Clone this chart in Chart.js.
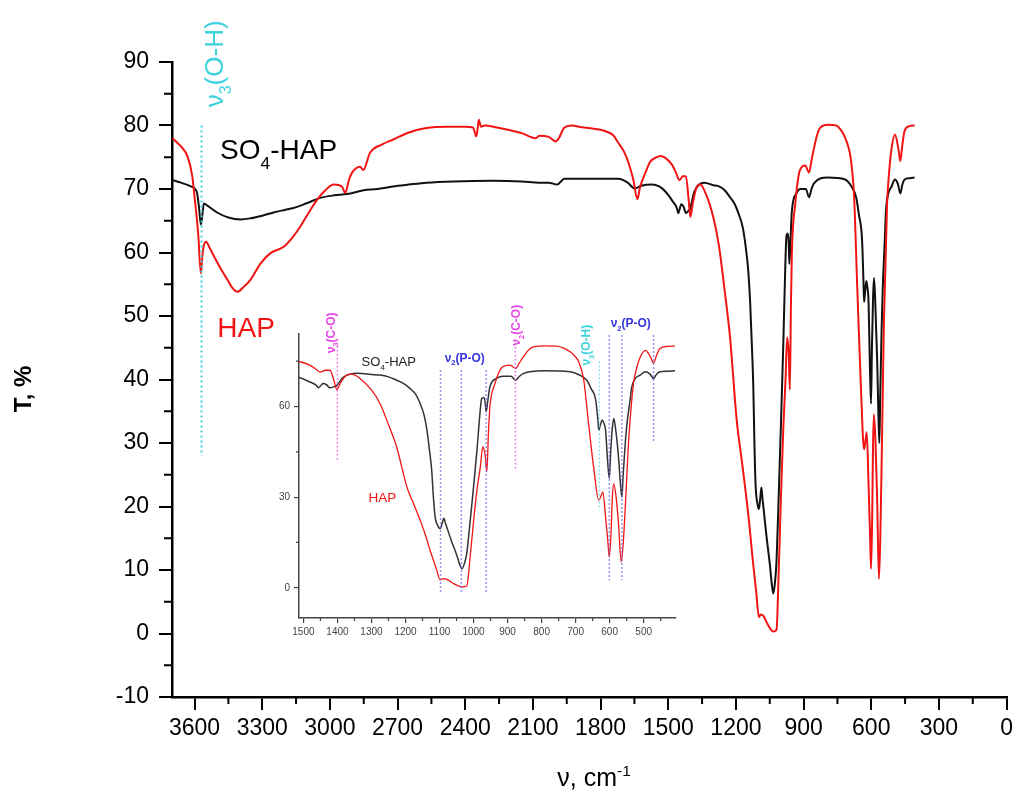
<!DOCTYPE html>
<html>
<head>
<meta charset="utf-8">
<script src="https://cdn.jsdelivr.net/npm/chart.js@4.4.0/dist/chart.umd.min.js"></script>
<style>
  body { margin: 0; background: #fff; }
  #wrap { position: relative; width: 1018px; height: 795px; }
  #mainChart { position: absolute; left: 0; top: 0; }
  #insetChart { position: absolute; left: 250px; top: 290px; }
</style>
</head>
<body>
<div id="wrap">
  <canvas id="mainChart" width="1018" height="795"></canvas>
  <canvas id="insetChart" width="440" height="360"></canvas>
</div>
<script>
'use strict'

// wavenumber (cm-1) and transmittance (%)
var hapNu = [3697, 3680, 3660, 3631, 3610, 3602, 3584, 3572, 3565, 3560,
  3550, 3530, 3514, 3480, 3454, 3430, 3410, 3385, 3352, 3307,
  3263, 3205, 3170, 3131, 3090, 3057, 3020, 2984, 2947, 2932,
  2915, 2903, 2866, 2852, 2822, 2770, 2719, 2650, 2572, 2480,
  2400, 2366, 2355, 2351, 2345, 2340, 2330, 2314, 2260, 2205,
  2150, 2087, 2072, 2030, 1999, 1985, 1962, 1925, 1896, 1830,
  1778, 1745, 1720, 1695, 1676, 1655, 1637, 1625, 1602, 1580,
  1557, 1535, 1513, 1481, 1465, 1451, 1435, 1422, 1410, 1402,
  1390, 1373, 1358, 1334, 1300, 1275, 1250, 1226, 1196, 1175,
  1157, 1140, 1128, 1110, 1098, 1090, 1079, 1060, 1045, 1034,
  1020, 1010, 1000, 990, 980, 973, 966, 961, 956, 952,
  937, 917, 893, 876, 865, 854, 840, 825, 790, 755,
  735, 716, 703, 691, 676, 662, 646, 632, 625, 620,
  612, 605, 601, 596, 592, 588, 581, 574, 566, 560,
  554, 544, 530, 520, 510, 495, 480, 471, 462, 452,
  430, 408];
var hapT = [78.0, 77.4, 76.7, 75.1, 72.0, 69.4, 63.0, 56.7, 59.5, 60.9,
  61.7, 60.5, 59.4, 57.2, 55.7, 54.3, 53.8, 54.5, 55.7, 58.3,
  59.9, 60.9, 62.2, 64.1, 66.5, 68.3, 69.8, 70.7, 70.4, 69.4,
  71.5, 72.5, 73.5, 73.0, 75.7, 77.0, 77.8, 78.9, 79.6, 79.8,
  79.8, 79.7, 78.6, 78.3, 79.5, 80.9, 79.8, 80.0, 79.7, 79.3,
  78.8, 78.0, 78.4, 78.2, 77.5, 78.0, 79.6, 80.0, 79.8, 79.5,
  79.1, 78.5, 77.2, 75.8, 74.1, 71.5, 68.4, 70.3, 72.5, 74.3,
  74.9, 75.2, 74.9, 73.7, 72.5, 71.4, 72.0, 72.0, 68.5, 65.6,
  68.0, 70.4, 70.7, 69.3, 65.5, 61.0, 54.0, 46.6, 33.4, 27.5,
  22.4, 17.0, 12.5, 6.5, 2.6, 3.0, 2.8, 1.5, 0.6, 0.3,
  0.6, 10.2, 22.0, 32.3, 40.0, 46.6, 44.0, 38.4, 52.0, 59.9,
  67.6, 72.9, 73.7, 72.6, 74.5, 76.4, 78.5, 79.7, 80.1, 80.0,
  79.3, 78.1, 76.8, 74.8, 68.7, 54.4, 38.9, 29.0, 30.5, 31.7,
  23.5, 15.0, 10.2, 18.0, 30.0, 34.5, 30.0, 21.3, 8.6, 15.0,
  26.8, 48.9, 67.6, 73.0, 76.4, 78.6, 76.4, 74.4, 77.0, 79.2,
  79.9, 80.0];

var so4Nu = [3697, 3660, 3616, 3590, 3580, 3572, 3565, 3559, 3540, 3500,
  3450, 3396, 3350, 3300, 3250, 3200, 3161, 3100, 3043, 2980,
  2924, 2850, 2790, 2721, 2650, 2571, 2450, 2280, 2150, 2072,
  2030, 1992, 1975, 1962, 1850, 1720, 1680, 1650, 1620, 1573,
  1540, 1513, 1481, 1462, 1456, 1442, 1432, 1422, 1412, 1402,
  1385, 1363, 1340, 1300, 1275, 1250, 1226, 1205, 1187, 1170,
  1157, 1145, 1137, 1130, 1123, 1118, 1113, 1105, 1098, 1093,
  1087, 1083, 1079, 1065, 1050, 1040, 1034, 1027, 1020, 1010,
  1000, 990, 981, 976, 970, 966, 963, 958, 952, 932,
  913, 890, 876, 865, 854, 794, 716, 690, 667, 655,
  641, 635, 632, 627, 622, 617, 612, 606, 601, 597,
  592, 588, 583, 574, 568, 564, 560, 554, 549, 540,
  535, 525, 510, 495, 482, 471, 462, 452, 430, 408];
var so4T = [71.4, 71.0, 70.4, 69.5, 67.0, 64.4, 66.0, 67.7, 67.3, 66.3,
  65.5, 65.2, 65.4, 65.8, 66.3, 66.7, 67.0, 67.8, 68.6, 69.0,
  69.2, 69.8, 70.0, 70.4, 70.7, 71.0, 71.2, 71.3, 71.2, 71.0,
  71.0, 70.7, 71.2, 71.6, 71.6, 71.6, 71.0, 70.1, 70.5, 70.7,
  70.4, 69.6, 68.1, 67.0, 66.2, 67.6, 67.2, 66.2, 66.5, 67.0,
  69.5, 70.7, 71.0, 70.6, 70.4, 69.8, 68.7, 67.6, 66.0, 64.0,
  61.0, 57.0, 52.2, 46.0, 38.9, 30.0, 23.5, 20.5, 19.6, 21.0,
  23.0, 21.5, 20.2, 15.5, 11.0, 7.5, 6.3, 8.0, 11.4, 22.0,
  33.4, 45.5, 58.0, 62.6, 63.0, 61.5, 58.2, 62.0, 66.5, 69.3,
  70.0, 70.0, 68.7, 70.0, 70.9, 71.8, 71.5, 70.5, 68.7, 66.0,
  62.1, 56.0, 52.2, 54.0, 55.5, 54.5, 52.2, 42.0, 36.2, 45.0,
  53.0, 56.0, 53.0, 43.3, 34.0, 30.0, 38.0, 48.0, 54.4, 62.0,
  66.5, 69.2, 70.4, 71.5, 70.8, 69.3, 70.7, 71.5, 71.7, 71.8];

// tick labels
var xTicks = [3600, 3300, 3000, 2700, 2400, 2100, 1800, 1500, 1200, 900, 600, 300, 0];
var yTicks = [-10, 0, 10, 20, 30, 40, 50, 60, 70, 80, 90];
var insetXTicks = [1500, 1400, 1300, 1200, 1100, 1000, 900, 800, 700, 600, 500];
var insetYTicks = [0, 30, 60];

// dotted band markers in the inset
var markNu = [1400, 1097, 1036, 963, 877, 630, 601, 564, 471];
var markLo = [42, -2, -2, -2, 39, 25.7, 2.5, 2.5, 48.3];
var markHi = [80, 72, 72, 72, 81, 74.8, 83.6, 83.6, 83.6];
var markKind = ['co', 'po', 'po', 'po', 'co', 'oh', 'po', 'po', 'po'];

const FONT = '"Liberation Sans", Arial, sans-serif';
const RED = '#f01414';
const BLACK = '#111111';
const CYAN = '#3cd2de';
const MAGENTA = '#e845e8';
const BLUE = '#3434e0';
const markColor = { co: '#ee66ee', po: '#7272f2', oh: '#66e0e6' };

function points(nu, t) {
  return nu.map((v, i) => ({ x: v, y: t[i] }));
}

// text with sub (1) / superscript (2) parts
function drawRich(ctx, parts, x, y, opt) {
  const size = opt.size;
  const weight = opt.weight || 'normal';
  const fontFor = m => weight + ' ' + (m ? size * 0.62 : size) + 'px ' + FONT;
  let w = 0;
  parts.forEach(p => { ctx.font = fontFor(p[1]); w += ctx.measureText(p[0]).width; });
  ctx.save();
  ctx.translate(x, y);
  if (opt.rot) ctx.rotate(opt.rot);
  ctx.fillStyle = opt.color;
  ctx.textBaseline = 'alphabetic';
  ctx.textAlign = 'left';
  let cx = opt.align === 'center' ? -w / 2 : 0;
  parts.forEach(p => {
    ctx.font = fontFor(p[1]);
    const dy = p[1] === 1 ? size * (opt.subDrop || 0.28) : (p[1] === 2 ? -size * 0.42 : 0);
    ctx.fillText(p[0], cx, dy);
    cx += ctx.measureText(p[0]).width;
  });
  ctx.restore();
}

// short ticks half way between the labelled ones
function minorTicks(ctx, scale, vals, len, horizontal, edge) {
  ctx.beginPath();
  for (let i = 0; i < vals.length - 1; i++) {
    const p = scale.getPixelForValue((vals[i] + vals[i + 1]) / 2);
    if (horizontal) { ctx.moveTo(p, edge); ctx.lineTo(p, edge + len); }
    else { ctx.moveTo(edge, p); ctx.lineTo(edge - len, p); }
  }
  ctx.stroke();
}

const mainDecor = {
  id: 'mainDecor',
  afterDraw(chart) {
    const ctx = chart.ctx;
    const a = chart.chartArea;
    const x = chart.scales.x;
    const y = chart.scales.y;
    ctx.save();
    ctx.strokeStyle = '#000';
    ctx.lineWidth = 2;
    minorTicks(ctx, x, xTicks, 7, true, a.bottom);
    minorTicks(ctx, y, yTicks, 8, false, a.left);

    // O-H stretch marker
    ctx.strokeStyle = CYAN;
    ctx.lineWidth = 2;
    ctx.setLineDash([2, 3]);
    ctx.beginPath();
    ctx.moveTo(x.getPixelForValue(3569), y.getPixelForValue(80));
    ctx.lineTo(x.getPixelForValue(3569), y.getPixelForValue(28));
    ctx.stroke();
    ctx.setLineDash([]);

    drawRich(ctx, [['ν', 0], ['3', 1], ['(O-H)', 0]], x.getPixelForValue(3475), y.getPixelForValue(89.7),
      { size: 26, color: CYAN, rot: -Math.PI / 2, align: 'center', subDrop: 0.33 });
    drawRich(ctx, [['SO', 0], ['4', 1], ['-HAP', 0]], x.getPixelForValue(3487), y.getPixelForValue(74.7),
      { size: 28, color: '#000', subDrop: 0.36 });
    drawRich(ctx, [['HAP', 0]], x.getPixelForValue(3499), y.getPixelForValue(46.7),
      { size: 28, color: RED });

    // axis titles
    drawRich(ctx, [['T, %', 0]], 31, 389, { size: 24, weight: 'bold', color: '#000', rot: -Math.PI / 2, align: 'center' });
    drawRich(ctx, [['ν, cm', 0], ['-1', 2]], 594, 786, { size: 25, color: '#000', align: 'center' });
    ctx.restore();
  }
};

const insetDecor = {
  id: 'insetDecor',
  afterDraw(chart) {
    const ctx = chart.ctx;
    const a = chart.chartArea;
    const x = chart.scales.x;
    const y = chart.scales.y;
    ctx.save();
    ctx.strokeStyle = '#444';
    ctx.lineWidth = 1.2;
    minorTicks(ctx, x, insetXTicks.concat([400]), 3, true, a.bottom);
    minorTicks(ctx, y, insetYTicks.concat([90]), 3, false, a.left);

    ctx.lineWidth = 1.5;
    ctx.setLineDash([1.5, 2.5]);
    markNu.forEach((v, i) => {
      ctx.strokeStyle = markColor[markKind[i]];
      ctx.beginPath();
      ctx.moveTo(x.getPixelForValue(v), y.getPixelForValue(markHi[i]));
      ctx.lineTo(x.getPixelForValue(v), y.getPixelForValue(markLo[i]));
      ctx.stroke();
    });
    ctx.setLineDash([]);

    const up = -Math.PI / 2;
    drawRich(ctx, [['ν', 0], ['3', 1], ['(C-O)', 0]], x.getPixelForValue(1407), y.getPixelForValue(84.4),
      { size: 12, weight: 'bold', color: MAGENTA, rot: up, align: 'center' });
    drawRich(ctx, [['ν', 0], ['2', 1], ['(P-O)', 0]], x.getPixelForValue(1026), y.getPixelForValue(74.7),
      { size: 12, weight: 'bold', color: BLUE, align: 'center' });
    drawRich(ctx, [['ν', 0], ['2', 1], ['(C-O)', 0]], x.getPixelForValue(863), y.getPixelForValue(86.9),
      { size: 12, weight: 'bold', color: MAGENTA, rot: up, align: 'center' });
    drawRich(ctx, [['ν', 0], ['3', 1], ['(O-H)', 0]], x.getPixelForValue(657), y.getPixelForValue(80.3),
      { size: 12, weight: 'bold', color: CYAN, rot: up, align: 'center' });
    drawRich(ctx, [['ν', 0], ['2', 1], ['(P-O)', 0]], x.getPixelForValue(538), y.getPixelForValue(86.2),
      { size: 12, weight: 'bold', color: BLUE, align: 'center' });
    drawRich(ctx, [['SO', 0], ['4', 1], ['-HAP', 0]], x.getPixelForValue(1329), y.getPixelForValue(73.3),
      { size: 13, color: '#222' });
    drawRich(ctx, [['HAP', 0]], x.getPixelForValue(1309), y.getPixelForValue(28.4),
      { size: 13.5, color: RED });
    ctx.restore();
  }
};

function lineSet(label, nu, t, color, width) {
  return {
    label: label,
    data: points(nu, t),
    borderColor: color,
    borderWidth: width,
    pointRadius: 0,
    fill: false,
    cubicInterpolationMode: 'monotone'
  };
}

function axis(min, max, ticks, opts) {
  return {
    type: 'linear',
    min: min,
    max: max,
    reverse: !!opts.reverse,
    afterBuildTicks: s => { s.ticks = ticks.map(v => ({ value: v })); },
    afterFit: opts.fit,
    grid: { drawOnChartArea: false, drawTicks: true, tickLength: opts.tick, lineWidth: opts.lw, color: opts.color },
    border: { display: true, width: opts.border, color: opts.color },
    ticks: {
      autoSkip: false,
      maxRotation: 0,
      padding: opts.pad,
      color: opts.color,
      font: { family: FONT, size: opts.font },
      callback: v => String(v)
    }
  };
}

new Chart(document.getElementById('mainChart').getContext('2d'), {
  type: 'line',
  data: {
    datasets: [
      lineSet('HAP', hapNu, hapT, RED, 2),
      lineSet('SO4-HAP', so4Nu, so4T, BLACK, 2)
    ]
  },
  options: {
    responsive: false,
    animation: false,
    devicePixelRatio: 1,
    layout: { padding: { left: 0, top: 62, right: 7, bottom: 0 } },
    plugins: { legend: { display: false }, tooltip: { enabled: false } },
    scales: {
      x: axis(0, 3700, xTicks, { reverse: true, fit: s => { s.height = 98; }, tick: 13, lw: 2, color: '#000', border: 2.5, pad: 5, font: 23 }),
      y: axis(-10, 90, yTicks, { fit: s => { s.width = 172; }, tick: 13, lw: 2, color: '#000', border: 2.5, pad: 10, font: 23 })
    }
  },
  plugins: [mainDecor]
});

new Chart(document.getElementById('insetChart').getContext('2d'), {
  type: 'line',
  data: {
    datasets: [
      lineSet('HAP', hapNu, hapT, RED, 1.3),
      lineSet('SO4-HAP', so4Nu, so4T, '#333', 1.5)
    ]
  },
  options: {
    responsive: false,
    animation: false,
    devicePixelRatio: 1,
    layout: { padding: { left: 0, top: 44, right: 14, bottom: 0 } },
    plugins: { legend: { display: false }, tooltip: { enabled: false } },
    scales: {
      x: axis(405, 1513, insetXTicks, { reverse: true, fit: s => { s.height = 32; }, tick: 5, lw: 1.2, color: '#444', border: 1.5, pad: 3, font: 10 }),
      y: axis(-10, 84, insetYTicks, { fit: s => { s.width = 49; }, tick: 5, lw: 1.2, color: '#444', border: 1.5, pad: 4, font: 10 })
    }
  },
  plugins: [insetDecor]
});
</script>
</body>
</html>
